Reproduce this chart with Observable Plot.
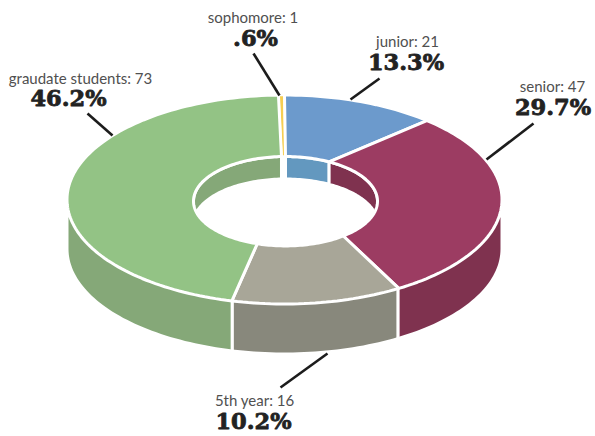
<!DOCTYPE html>
<html>
<head>
<meta charset="utf-8">
<script src="https://cdn.jsdelivr.net/npm/d3@7"></script>
<script src="https://cdn.jsdelivr.net/npm/@observablehq/plot@0.6"></script>
<style>
html,body{margin:0;padding:0;background:#fff;}
svg{display:block;}
</style>
</head>
<body>
<div id="chart"></div>
<script>
// ---- data ----
const names = ["sophomore", "junior", "senior", "5th year", "graudate students"];
const counts = [1, 21, 47, 16, 73];
const percents = [".6%", "13.3%", "29.7%", "10.2%", "46.2%"];
// The slices as drawn are not exactly proportional: sweeps (degrees) read off the rim and the hole
const rimSweep = [1.6, 40.9, 107.4, 45.7, 164.4];
const holeSweep = [2.5, 28.3, 112.8, 56.8, 159.6];

// ---- styles ----
const topColors = ["#F6CE52", "#6C9ACC", "#9C3C62", "#A8A698", "#93C385"];
const wallColors = ["#F6CE52", "#6398BF", "#7F324F", "#88887C", "#85A878"];

// ---- layout ----
const rim = {cx: 284, cy: 199, rx: 217.5, ry: 104.5};
const side = {cx: 284, cy: 199, rx: 216, ry: 103.5, depth: 49.5};
const hole = {cx: 285, cy: 200.7, rx: 92, ry: 44.7, depth: 22.5};
const rimStart = -1.6, holeStart = -2.5;
const labelLayout = [
  {x: 252.5, y: 18, px: 255, py: 38},
  {x: 407, y: 42, px: 405.5, py: 62.5},
  {x: 552, y: 87, px: 552.5, py: 107},
  {x: 254, y: 401, px: 253, py: 421},
  {x: 80, y: 79, px: 68, py: 98}
];
const leaders = [
  {x1: 253, y1: 53, x2: 279, y2: 95},
  {x1: 379, y1: 78, x2: 350, y2: 99},
  {x1: 533, y1: 123, x2: 486, y2: 159},
  {x1: 280, y1: 387, x2: 327, y2: 353},
  {x1: 87, y1: 113, x2: 112, y2: 135}
];

// ---- geometry helpers (angles clockwise from the top of the ellipse) ----
const pt = (e, deg, dy = 0) => {
  const t = deg * Math.PI / 180;
  return {x: e.cx + e.rx * Math.sin(t), y: e.cy - e.ry * Math.cos(t) + dy};
};
const arc = (e, a, b, dy = 0) => {
  const n = Math.max(2, Math.ceil(Math.abs(b - a) / 1.5));
  return d3.range(n + 1).map(i => pt(e, a + (b - a) * i / n, dy));
};
const edges = (start, sweep) => [start, ...d3.cumsum(sweep, d => d).map(d => start + d)];
const rimE = edges(rimStart, rimSweep);
const holeE = edges(holeStart, holeSweep);

const lineOpts = {x: "x", y: "y", curve: "linear-closed", strokeLinejoin: "miter"};

// Outside wall: front half only (90..270 degrees)
const wallTopLimit = side.cy + 18;
const outerWalls = names.map((n, i) => {
  const a = Math.max(rimE[i], 90), b = Math.min(rimE[i + 1], 270);
  if (b <= a) return null;
  const top = arc(side, a, b).map(p => ({x: p.x, y: Math.max(p.y, wallTopLimit)}));
  const bot = arc(side, b, a, side.depth);
  return Plot.line([...top, ...bot], {...lineOpts, fill: wallColors[i], stroke: "none"});
}).filter(Boolean);

// White seams between outside walls
const seams = names.map((n, i) => {
  const e = rimE[i + 1];
  if (e <= 90 || e >= 270) return null;
  const t = pt(side, e), b = pt(side, e, side.depth + 1);
  return Plot.line([t, b], {x: "x", y: "y", stroke: "white", strokeWidth: 3.2});
}).filter(Boolean);

// Inside wall of the hole: back half only (-90..90 degrees), skipping the sliver
const innerWalls = names.map((n, i) => {
  if (i === 0) return null;
  const spans = [[holeE[i], holeE[i + 1]], [holeE[i] - 360, holeE[i + 1] - 360]];
  return spans.map(([s, t]) => {
    const a = Math.max(s, -90), b = Math.min(t, 90);
    if (b <= a) return null;
    const pts = [...arc(hole, a, b), ...arc(hole, b, a, hole.depth)];
    return Plot.line(pts, {...lineOpts, fill: wallColors[i], stroke: "white", strokeWidth: 3});
  }).filter(Boolean);
}).flat().filter(Boolean);

// Top face: ring segments
const topFaces = names.map((n, i) => {
  const pts = [...arc(rim, rimE[i], rimE[i + 1]), ...arc(hole, holeE[i + 1], holeE[i])];
  return Plot.line(pts, {...lineOpts, fill: topColors[i], stroke: "white", strokeWidth: i === 0 ? 2.4 : 3});
});

const labelRows = names.map((n, i) => ({
  label: `${n}: ${counts[i]}`, pct: percents[i], ...labelLayout[i]
}));

const chart = Plot.plot({
  width: 595,
  height: 436,
  margin: 0,
  axis: null,
  style: {background: "white"},
  x: {domain: [0, 595], range: [0, 595]},
  y: {domain: [0, 436], range: [0, 436]},
  marks: [
    ...outerWalls,
    ...seams,
    ...innerWalls,
    ...topFaces,
    Plot.link(leaders, {x1: "x1", y1: "y1", x2: "x2", y2: "y2", stroke: "#1c1c1c", strokeWidth: 2.6}),
    Plot.text(labelRows, {
      x: "x", y: "y", text: "label", fontFamily: "Lato", fontWeight: 400, fontSize: 15, fill: "#505050",
      textAnchor: "middle", lineAnchor: "middle"
    }),
    Plot.text(labelRows, {
      x: "px", y: "py", text: "pct", fontFamily: "DejaVu Serif", fontWeight: 700, fontSize: 22.5, fill: "#222222",
      stroke: "#222222", strokeWidth: 0.8,
      textAnchor: "middle", lineAnchor: "middle"
    })
  ]
});
document.getElementById("chart").appendChild(chart);
</script>
</body>
</html>
